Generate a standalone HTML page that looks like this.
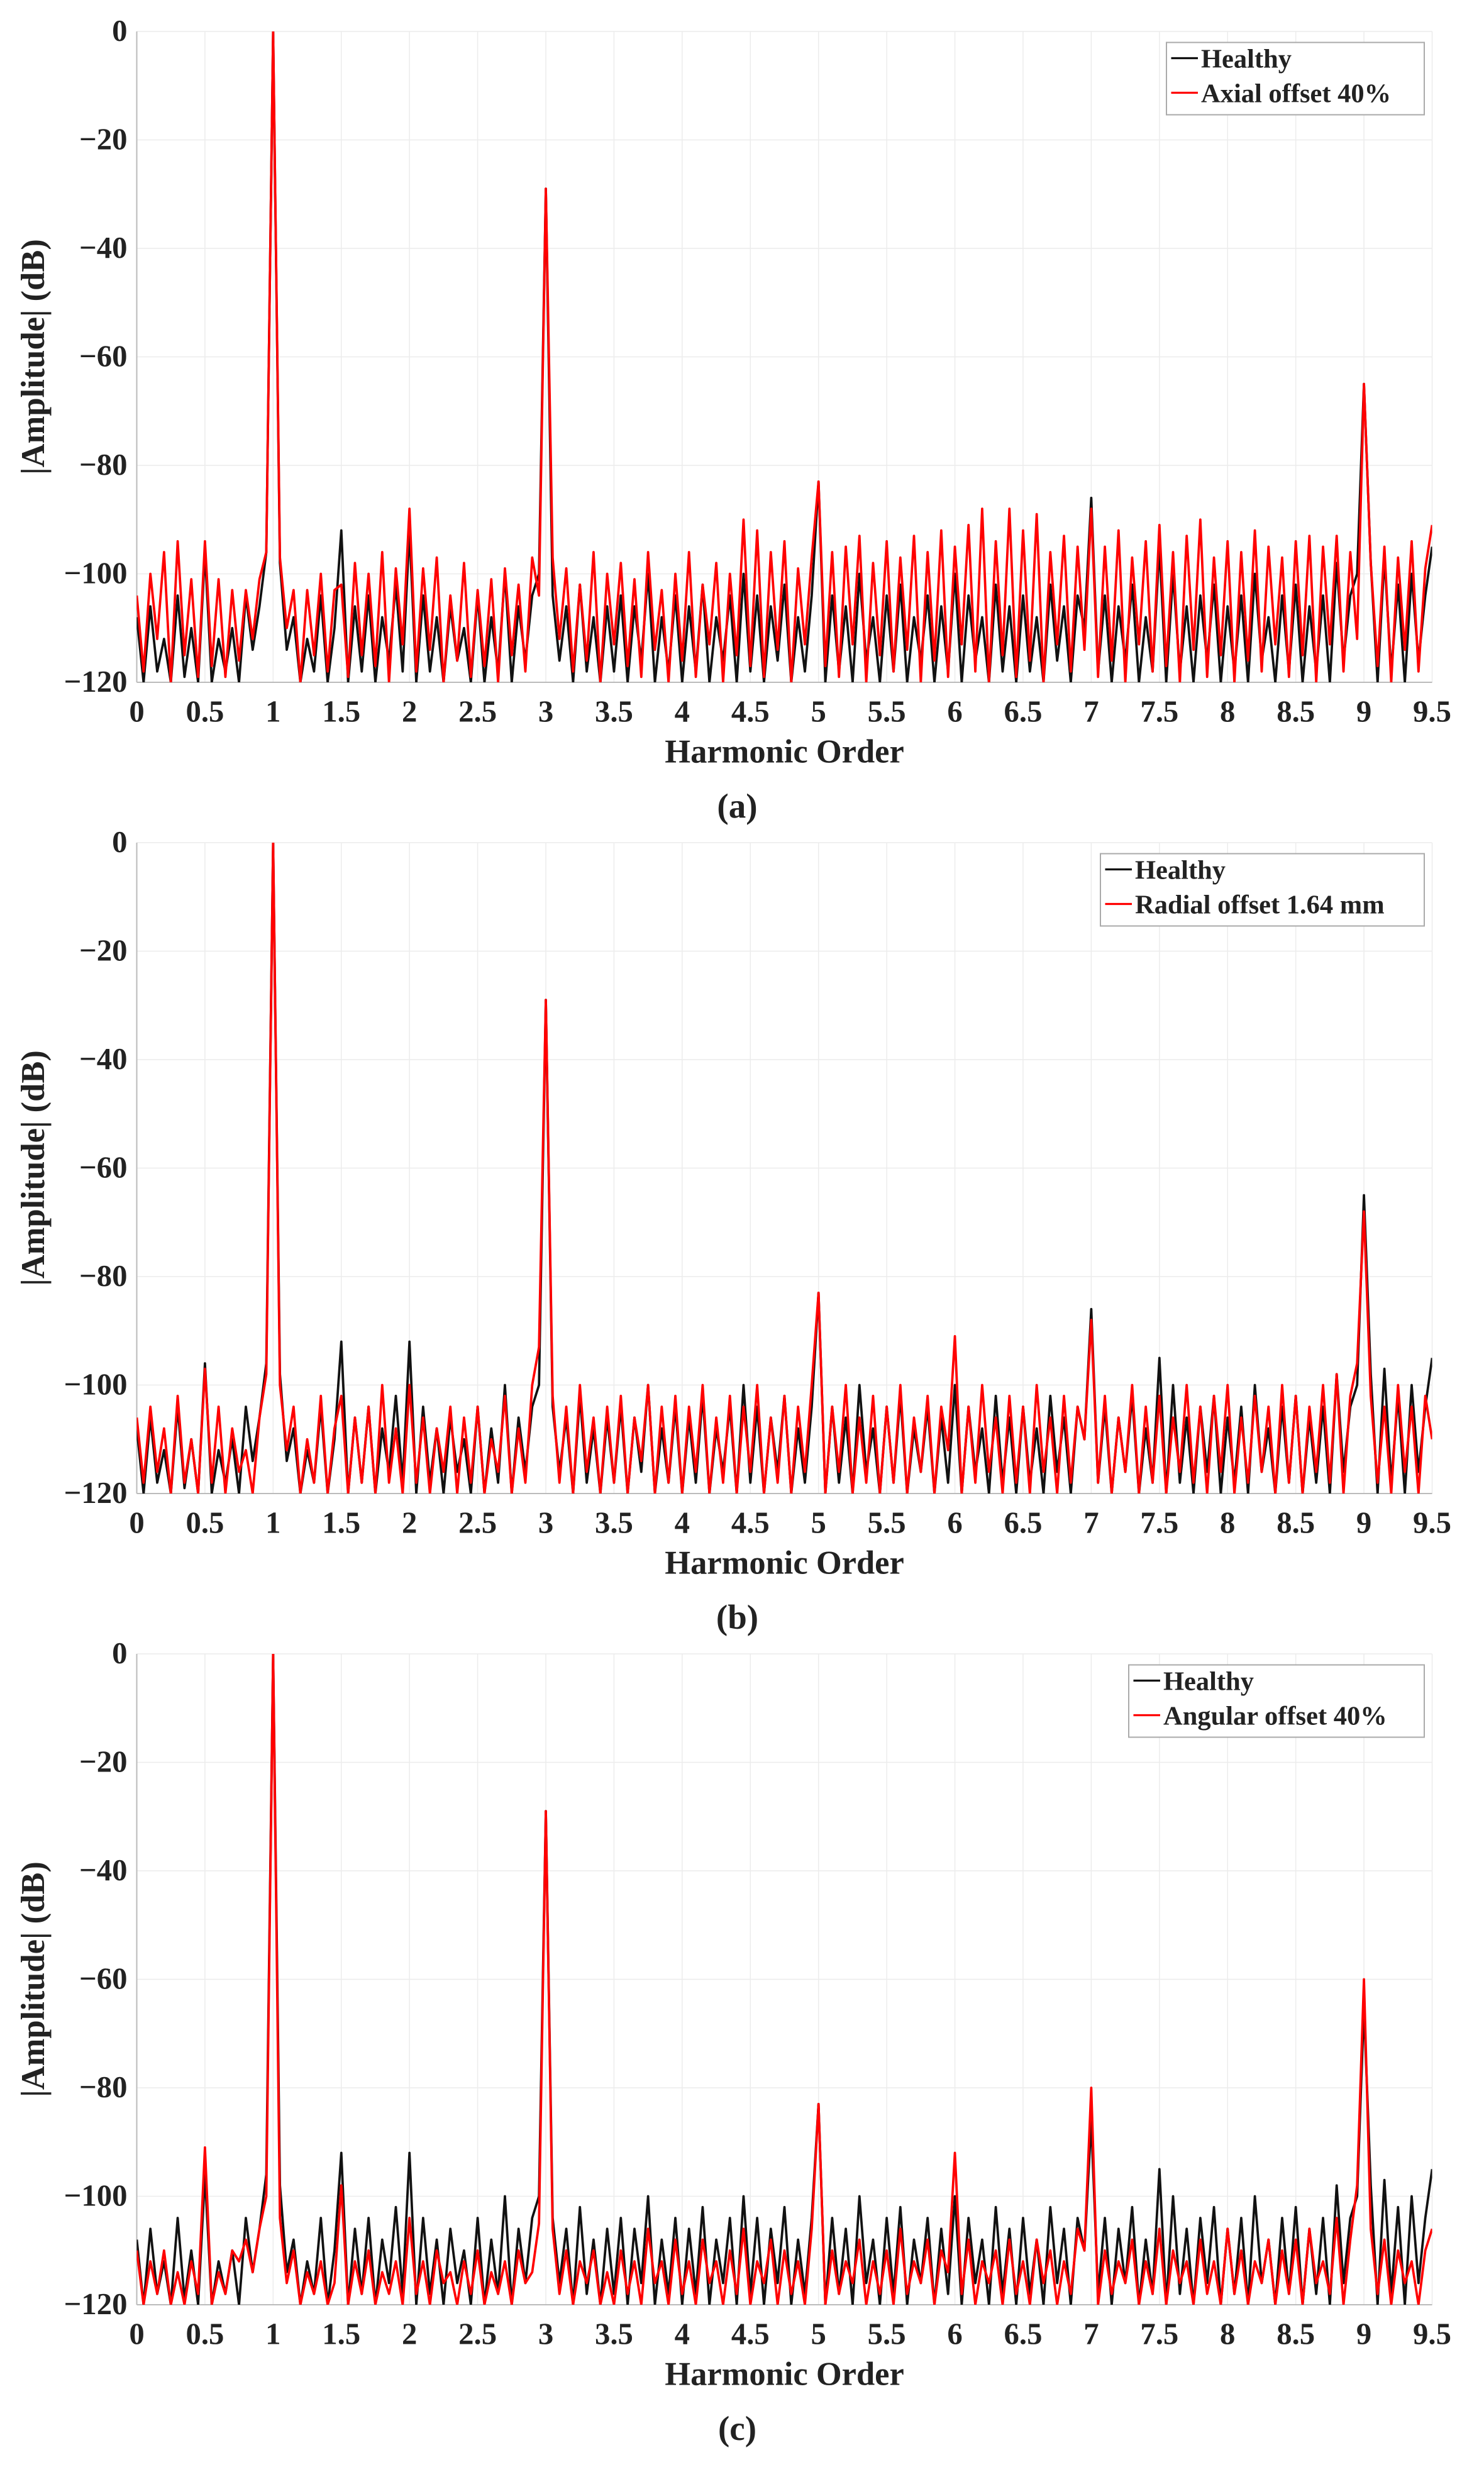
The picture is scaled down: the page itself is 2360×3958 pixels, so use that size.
<!DOCTYPE html>
<html><head><meta charset="utf-8"><style>
html,body{margin:0;padding:0;background:#fff}
svg{display:block}
text{font-family:"Liberation Serif",serif;font-weight:bold;fill:#222}
</style></head><body>
<svg id="fig" width="2360" height="3958" viewBox="0 0 944 1583.2" xmlns="http://www.w3.org/2000/svg"></svg>
<script>
const xTicks=[0,0.5,1,1.5,2,2.5,3,3.5,4,4.5,5,5.5,6,6.5,7,7.5,8,8.5,9,9.5];
const xTickLabels=["0","0.5","1","1.5","2","2.5","3","3.5","4","4.5","5","5.5","6","6.5","7","7.5","8","8.5","9","9.5"];
const yTicks=[0,-20,-40,-60,-80,-100,-120];
const yTickLabels=["0","\u221220","\u221240","\u221260","\u221280","\u2212100","\u2212120"];
const harmonicStep=0.05;
const healthy=[-108,-120,-106,-118,-112,-120,-104,-119,-110,-120,
-96,-120,-112,-118,-110,-120,-104,-114,-106,-96,
0,-98,-114,-108,-120,-112,-118,-104,-120,-110,
-92,-120,-106,-118,-104,-120,-108,-116,-102,-118,
-92,-120,-104,-118,-108,-120,-106,-116,-110,-120,
-104,-120,-108,-118,-100,-120,-106,-116,-104,-100,
-29,-104,-116,-106,-120,-102,-118,-108,-120,-106,
-118,-104,-120,-106,-116,-100,-120,-108,-118,-104,
-120,-106,-118,-102,-120,-108,-116,-104,-120,-100,
-118,-104,-120,-106,-116,-102,-120,-108,-118,-104,
-83,-120,-104,-118,-106,-120,-100,-116,-108,-120,
-104,-118,-102,-120,-108,-116,-104,-120,-106,-118,
-100,-120,-104,-116,-108,-120,-102,-118,-106,-120,
-104,-118,-108,-120,-102,-116,-106,-120,-104,-110,
-86,-118,-104,-120,-106,-116,-102,-120,-108,-118,
-95,-120,-100,-118,-106,-120,-104,-116,-102,-120,
-106,-118,-104,-120,-100,-116,-108,-120,-104,-118,
-102,-120,-106,-118,-104,-120,-98,-116,-104,-100,
-65,-98,-120,-97,-118,-102,-120,-100,-116,-104,
-95];
const axialOffset=[-104,-118,-100,-112,-96,-120,-94,-115,-101,-119,
-94,-117,-101,-119,-103,-116,-103,-112,-101,-96,
0,-97,-110,-103,-120,-103,-115,-100,-118,-103,
-102,-119,-98,-115,-100,-117,-96,-120,-99,-113,
-88,-118,-99,-114,-97,-120,-104,-116,-98,-119,
-103,-117,-101,-120,-99,-115,-102,-118,-97,-104,
-29,-97,-112,-99,-118,-102,-116,-96,-120,-100,
-113,-98,-117,-101,-119,-96,-114,-103,-120,-100,
-116,-96,-119,-102,-113,-98,-120,-100,-115,-90,
-117,-92,-119,-96,-114,-94,-120,-99,-113,-97,
-83,-117,-96,-119,-95,-113,-93,-120,-98,-115,
-94,-118,-97,-114,-93,-120,-96,-116,-92,-119,
-95,-113,-91,-118,-88,-120,-94,-115,-88,-119,
-92,-116,-89,-120,-96,-113,-93,-118,-95,-114,
-88,-119,-95,-116,-92,-120,-97,-113,-94,-118,
-91,-117,-96,-120,-93,-114,-90,-119,-97,-115,
-94,-120,-96,-116,-92,-118,-95,-113,-97,-119,
-94,-115,-93,-120,-95,-113,-93,-118,-96,-112,
-65,-98,-117,-95,-120,-97,-114,-94,-118,-99,
-91];
const radialOffset=[-106,-118,-104,-116,-108,-120,-102,-118,-110,-120,
-97,-118,-104,-120,-108,-116,-112,-120,-106,-98,
0,-100,-112,-104,-120,-110,-118,-102,-120,-108,
-102,-120,-106,-118,-104,-120,-100,-118,-108,-120,
-100,-118,-106,-120,-108,-116,-104,-120,-106,-118,
-104,-120,-110,-116,-102,-120,-108,-118,-100,-93,
-29,-102,-118,-104,-120,-100,-116,-106,-120,-104,
-118,-102,-120,-106,-114,-100,-120,-104,-118,-102,
-120,-104,-116,-100,-120,-106,-118,-102,-120,-104,
-116,-100,-120,-106,-118,-102,-120,-104,-116,-100,
-83,-120,-104,-116,-100,-120,-106,-118,-102,-120,
-104,-118,-100,-120,-106,-116,-102,-120,-104,-112,
-91,-120,-104,-118,-100,-116,-106,-120,-102,-118,
-104,-120,-100,-116,-106,-120,-102,-118,-104,-110,
-88,-118,-102,-120,-106,-116,-100,-120,-104,-118,
-102,-120,-106,-116,-100,-118,-104,-120,-102,-116,
-100,-120,-106,-118,-102,-116,-104,-120,-100,-118,
-102,-120,-104,-116,-100,-118,-98,-120,-102,-96,
-68,-102,-118,-104,-120,-100,-116,-104,-120,-102,
-110];
const angularOffset=[-110,-120,-112,-118,-110,-120,-114,-120,-112,-118,
-91,-120,-114,-118,-110,-112,-108,-114,-106,-100,
0,-104,-116,-110,-120,-114,-118,-112,-120,-116,
-98,-120,-112,-118,-110,-120,-114,-118,-112,-120,
-104,-118,-112,-120,-110,-116,-114,-120,-112,-118,
-110,-120,-114,-118,-112,-120,-110,-116,-114,-105,
-29,-106,-118,-110,-120,-112,-116,-110,-120,-114,
-120,-110,-118,-112,-120,-106,-116,-112,-120,-108,
-118,-112,-120,-108,-116,-112,-120,-110,-118,-106,
-120,-112,-116,-108,-120,-110,-118,-112,-120,-106,
-83,-120,-110,-118,-112,-116,-108,-120,-112,-118,
-110,-120,-106,-118,-112,-116,-108,-120,-110,-114,
-92,-118,-108,-120,-112,-116,-110,-120,-108,-118,
-112,-120,-108,-116,-110,-120,-112,-118,-106,-110,
-80,-120,-110,-118,-112,-116,-108,-120,-112,-118,
-106,-120,-110,-116,-112,-120,-108,-118,-112,-120,
-106,-118,-110,-120,-112,-116,-108,-120,-110,-118,
-108,-120,-106,-116,-112,-118,-104,-120,-108,-98,
-60,-106,-118,-108,-120,-110,-116,-112,-120,-110,
-106];
const panels=[
 {id:"a",label:"(a)",legend:"Axial offset 40%",fault:axialOffset,top:20,lx:742},
 {id:"b",label:"(b)",legend:"Radial offset 1.64 mm",fault:radialOffset,top:536,lx:700},
 {id:"c",label:"(c)",legend:"Angular offset 40%",fault:angularOffset,top:1052,lx:718}
];
const NS="http://www.w3.org/2000/svg";
const svg=document.getElementById('fig');
function mk(tag,attrs,parent){const e=document.createElementNS(NS,tag);for(const k in attrs)e.setAttribute(k,attrs[k]);(parent||svg).appendChild(e);return e;}
const L=87,R=911,H=414;
panels.forEach(p=>{
 const g=mk('g',{});
 
 
 const T=p.top,B=T+H;
 const xs=v=>L+(v-0)/(9.5-0)*(R-L);
 const ys=v=>T+(0-v)/120*H;
 const clipId='clip'+p.id;
 const cp=mk('clipPath',{id:clipId},g);mk('rect',{x:L,y:T,width:R-L,height:H},cp);
 xTicks.forEach((t,i)=>{
  const gl=mk('line',{x1:xs(t),x2:xs(t),y1:T,y2:B,stroke:'#ececec','stroke-width':0.6},g);
  
  
  const tx=mk('text',{x:xs(t),y:B+25,'text-anchor':'middle','font-size':19.5},g);tx.textContent=xTickLabels[i];
  
  
 });
 yTicks.forEach((t,i)=>{
  const gl=mk('line',{x1:L,x2:R,y1:ys(t),y2:ys(t),stroke:'#ececec','stroke-width':0.6},g);
  
  
  const tx=mk('text',{x:L-6,y:ys(t)+6,'text-anchor':'end','font-size':19.5},g);tx.textContent=yTickLabels[i];
  
  
 });
 mk('line',{x1:L,x2:L,y1:T,y2:B,stroke:'#bbb','stroke-width':0.8},g);
 mk('line',{x1:L,x2:R,y1:B,y2:B,stroke:'#bbb','stroke-width':0.8},g);
 const series=[[healthy,'#111','healthy-line'],[p.fault,'#ff0000','fault-line']];
 series.forEach(s=>{
  const pts=s[0].map((v,i)=>xs(i*harmonicStep).toFixed(2)+','+ys(v).toFixed(2)).join(' ');
  const pl=mk('polyline',{points:pts,fill:'none',stroke:s[1],'stroke-width':1.5,'stroke-linejoin':'round','clip-path':'url(#'+clipId+')'},g);
  
  
 });
 const yl=mk('text',{x:0,y:0,'text-anchor':'middle','font-size':21,transform:'translate(28,'+(T+H/2)+') rotate(-90)'},g);
 yl.textContent='|Amplitude| (dB)';
 
 
 const xl=mk('text',{x:(L+R)/2,y:B+51,'text-anchor':'middle','font-size':21},g);
 xl.textContent='Harmonic Order';
 
 
 const pl2=mk('text',{x:(L+R)/2-30,y:B+86,'text-anchor':'middle','font-size':22},g);
 pl2.textContent=p.label;
 
 
 const lg=mk('g',{},g);
 
 
 mk('rect',{x:p.lx,y:T+7,width:906-p.lx,height:46,fill:'#fff',stroke:'#aaa','stroke-width':0.8},lg);
 mk('line',{x1:p.lx+3,x2:p.lx+20,y1:T+17,y2:T+17,stroke:'#111','stroke-width':1.3},lg);
 mk('line',{x1:p.lx+3,x2:p.lx+20,y1:T+39,y2:T+39,stroke:'#ff0000','stroke-width':1.3},lg);
 const e1=mk('text',{x:p.lx+22,y:T+23,'font-size':17},lg);e1.textContent='Healthy';
 
 
 const e2=mk('text',{x:p.lx+22,y:T+45,'font-size':17},lg);e2.textContent=p.legend;
 
 
});
</script>
</body></html>
